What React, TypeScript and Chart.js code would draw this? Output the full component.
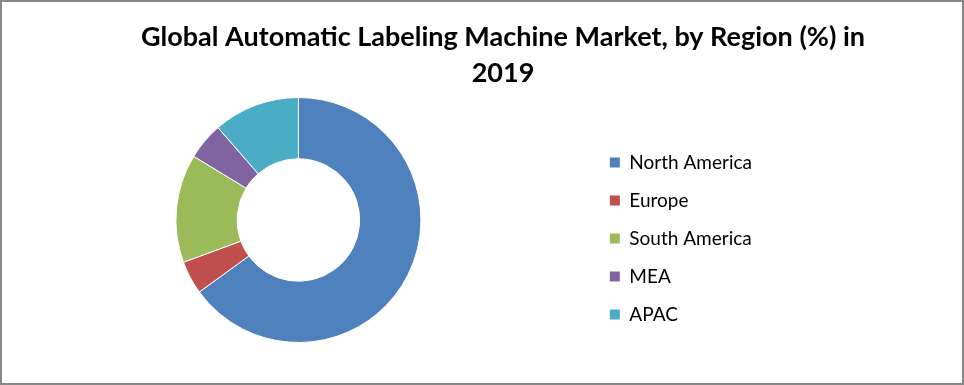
import React, { useEffect, useRef } from 'react';
import { Chart, registerables, layouts } from 'chart.js';

Chart.register(...registerables);

const categories = ['North America', 'Europe', 'South America', 'MEA', 'APAC'];
const shares = [65.0, 4.4, 14.3, 4.9, 11.4];
const sliceColors = ['#4F81BD', '#C0504D', '#9BBB59', '#8064A2', '#4BACC6'];
const titleLines = ['Global Automatic Labeling Machine Market, by Region (%) in', '2019'];

function makeSpacer(id: string, weight: number, size: number) {
  return {
    id,
    beforeInit(chart: any) {
      const box: any = {
        position: 'right',
        weight,
        fullSize: false,
        options: {},
        left: 0,
        top: 0,
        right: 0,
        bottom: 0,
        width: 0,
        height: 0,
        isHorizontal() {
          return false;
        },
        update(_maxWidth: number, maxHeight: number) {
          this.width = size;
          this.height = maxHeight;
        },
        draw() {},
      };
      layouts.addBox(chart, box);
    },
  };
}

export default function App() {
  const canvasRef = useRef<HTMLCanvasElement | null>(null);

  useEffect(() => {
    const canvas = canvasRef.current;
    if (!canvas) return;
    const baseGen = (Chart as any).overrides.doughnut.plugins.legend.labels.generateLabels;
    const chart = new Chart(canvas, {
      type: 'doughnut',
      data: {
        labels: categories,
        datasets: [
          {
            data: shares,
            backgroundColor: sliceColors,
            borderColor: '#ffffff',
            borderWidth: 1,
          },
        ],
      },
      options: {
        animation: false,
        responsive: false,
        cutout: '50%',
        layout: { padding: { left: 42, right: 0, top: 0, bottom: 40 } },
        plugins: {
          title: {
            display: true,
            text: titleLines,
            color: '#000000',
            font: { family: 'Lato', size: 27, weight: 'bold', lineHeight: 36 / 27 },
            padding: { top: 17, bottom: 6 },
          },
          legend: {
            position: 'right',
            align: 'end',
            fullSize: false,
            maxWidth: 400,
            labels: {
              boxWidth: 10,
              boxHeight: 10,
              padding: 19,
              color: '#000000',
              font: { family: 'Lato', size: 19 },
              generateLabels: (c: any) =>
                baseGen(c).map((l: any) => ({ ...l, lineWidth: 0 })),
            },
          },
          tooltip: { enabled: false },
        },
      },
      plugins: [makeSpacer('midSpacer', 500, 38), makeSpacer('rightSpacer', 1500, 200)],
    } as any);
    return () => chart.destroy();
  }, []);

  return (
    <div
      style={{
        position: 'fixed',
        left: 0,
        top: 0,
        width: 960,
        height: 381,
        border: '2px solid #878787',
        background: '#ffffff',
      }}
    >
      <canvas ref={canvasRef} width={960} height={381} style={{ display: 'block', width: 960, height: 381 }} />
    </div>
  );
}
